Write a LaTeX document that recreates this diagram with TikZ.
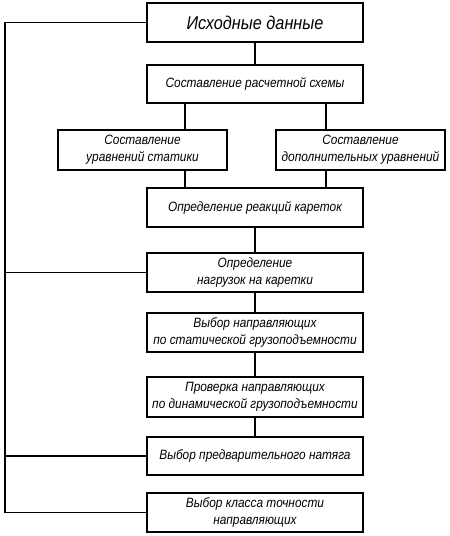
\documentclass[tikz,border=0pt]{standalone}
\usepackage{fontspec}
\setmainfont{Liberation Sans}[FakeStretch=0.88]
\begin{document}
\begin{tikzpicture}[x=1pt,y=-1pt,line width=1.2pt,
  box/.style={draw,rectangle,minimum width=216pt,minimum height=39pt,inner sep=0pt,align=center,font=\fontsize{13.5}{17}\selectfont\itshape},
  sbox/.style={box,minimum width=169pt,minimum height=40pt}]
\useasboundingbox (0,0) rectangle (450,536);
\node[box,font=\fontsize{18.5}{22}\selectfont\itshape] (b1) at (255,22.5) {Исходные данные};
\node[box,minimum height=38pt] (b2) at (255,84) {Составление расчетной схемы};
\node[sbox] (b3) at (142.5,150) {Составление\\уравнений статики};
\node[sbox] (b4) at (360.5,150) {Составление\\дополнительных уравнений};
\node[box] (b5) at (255,207.5) {Определение реакций кареток};
\node[box] (b6) at (255,272.5) {Определение\\нагрузок на каретки};
\node[box] (b7) at (255,332.5) {Выбор направляющих\\по статической грузоподъемности};
\node[box,minimum height=40pt] (b8) at (255,397) {Проверка направляющих\\по динамической грузоподъемности};
\node[box,minimum height=38pt] (b9) at (255,456) {Выбор предварительного натяга};
\node[box] (b10) at (255,512.5) {Выбор класса точности\\направляющих};
\coordinate (xl) at (185,0);
\coordinate (xr) at (326,0);
\coordinate (bus) at (5,0);
\draw (b1) -- (b2);
\draw (xl |- b2.south) -- (xl |- b3.north);
\draw (xr |- b2.south) -- (xr |- b4.north);
\draw (xl |- b3.south) -- (xl |- b5.north);
\draw (xr |- b4.south) -- (xr |- b5.north);
\draw (b5) -- (b6);
\draw (b6) -- (b7);
\draw (b7) -- (b8);
\draw (b8) -- (b9);
\draw (b1.west) -- (bus |- b1.west) -- (bus |- b10.west) -- (b10.west);
\draw (bus |- b6.west) -- (b6.west);
\draw (bus |- b9.west) -- (b9.west);
\end{tikzpicture}
\end{document}
